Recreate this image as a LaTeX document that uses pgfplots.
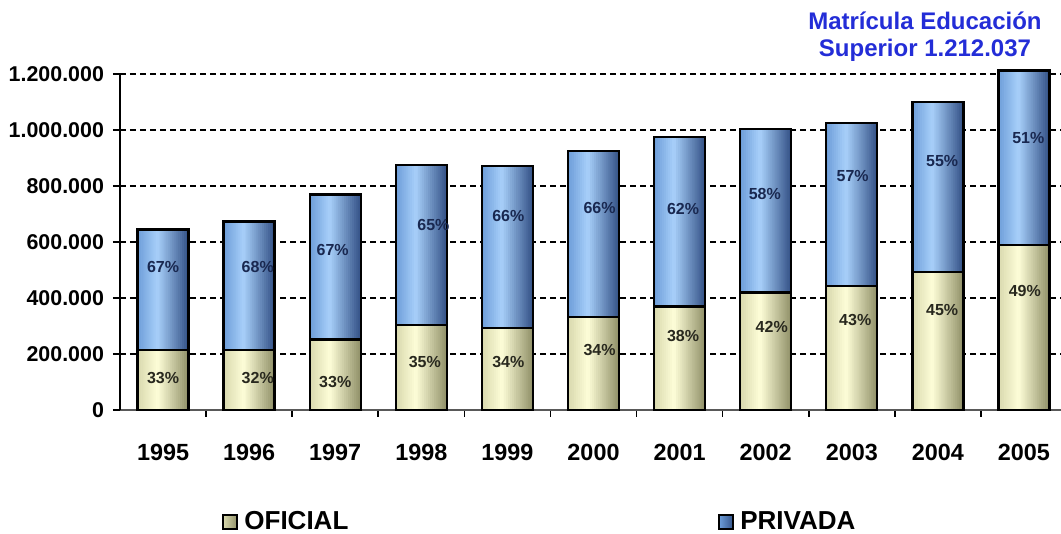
\documentclass[border=0pt]{standalone}
\usepackage{pgfplots}
\usepackage{pgfplotstable}
\pgfplotsset{compat=1.18}
\usepackage{fontspec}
\setmainfont{Liberation Sans}

\definecolor{blueL}{RGB}{108,156,216}
\definecolor{blueM}{RGB}{168,208,250}
\definecolor{blueR}{RGB}{52,82,135}
\definecolor{creamL}{RGB}{215,215,172}
\definecolor{creamM}{RGB}{254,254,216}
\definecolor{creamR}{RGB}{145,145,105}
\definecolor{titleblue}{RGB}{35,45,215}
\definecolor{navytxt}{RGB}{25,40,80}
\definecolor{darktxt}{RGB}{40,40,30}

\pgfplotstableread{
x ofi pri
0 215000 430000
1 215000 458000
2 252000 517000
3 303000 573000
4 292000 580000
5 332000 594000
6 369000 607000
7 420000 584000
8 443000 583000
9 493000 607000
10 590000 622037
}\datatable

\pgfplotsset{
  common/.style={
    at={(60pt,62pt)}, anchor=south west, scale only axis,
    width=470.5pt, height=168pt,
    xmin=-0.5, xmax=10.43, ymin=0, ymax=1200000,
    clip=false,
  },
  ofistyle/.style={draw=black, line width=1.2pt, left color=creamL, middle color=creamM, right color=creamR},
  pristyle/.style={draw=black, line width=1.2pt, left color=blueL, middle color=blueM, right color=blueR},
}

\begin{document}
\begin{tikzpicture}
\useasboundingbox (0,0) rectangle (530.5pt,267pt);
% frame, grid, ticks, legend
\begin{axis}[
  common,
  axis x line*=bottom, axis y line*=left,
  axis line style={-},
  x axis line style={draw=black!65, line width=0.9pt},
  y axis line style={draw=black, line width=1pt},
  ytick={0,200000,400000,600000,800000,1000000,1200000},
  yticklabels={0,200.000,400.000,600.000,800.000,1.000.000,1.200.000},
  scaled y ticks=false,
  yticklabel style={font=\bfseries\fontsize{10.7}{12}\selectfont, xshift=-1pt},
  ymajorgrids,
  major grid style={black, line width=0.7pt, dash pattern=on 3pt off 2pt},
  tick align=outside,
  major tick length=3.5pt,
  tick style={black, line width=0.8pt},
  xtick={0.5,1.5,2.5,3.5,4.5,5.5,6.5,7.5,8.5,9.5},
  xticklabels={,,,,,,,,,},
  extra x ticks={0,1,2,3,4,5,6,7,8,9,10},
  extra x tick labels={1995,1996,1997,1998,1999,2000,2001,2002,2003,2004,2005},
  extra x tick style={major tick length=0pt, tick style={draw=none}},
  x tick label style={font=\bfseries\fontsize{11.7}{13}\selectfont, yshift=-13.5pt},
  legend style={at={(0.102,-0.333)}, anchor=west, draw=none, fill=none,
    legend columns=2, font=\bfseries\fontsize{13}{15}\selectfont,
    /tikz/every even column/.append style={column sep=183pt},
    /tikz/every odd column/.append style={column sep=1pt}},
  legend cell align=left,
  legend image code/.code={\draw[#1, line width=1pt] (0pt,-3.5pt) rectangle (7pt,3.5pt);},
]
\addlegendimage{ofistyle}
\addlegendentry{OFICIAL}
\addlegendimage{pristyle}
\addlegendentry{PRIVADA}
\end{axis}

% bar fills: 25 thin vertical slices of each stacked bar give the horizontal gradient
\foreach \k in {0,...,24}{
  \pgfmathsetmacro\t{(\k+0.5)/25}
  \pgfmathsetmacro\sh{(\k+0.5)*1.02-12.75}
  \ifdim\t pt<0.4pt
    \pgfmathtruncatemacro\p{100*\t/0.4}
    \colorlet{bc}{blueM!\p!blueL}\colorlet{cc}{creamM!\p!creamL}
  \else
    \pgfmathtruncatemacro\p{100*(\t-0.4)/0.6}
    \colorlet{bc}{blueR!\p!blueM}\colorlet{cc}{creamR!\p!creamM}
  \fi
  \begin{axis}[common, hide axis, ybar stacked, bar width=1.4pt, bar shift=\sh pt]
  \addplot[fill=cc, draw=none] table[x=x, y=ofi] {\datatable};
  \addplot[fill=bc, draw=none] table[x=x, y=pri] {\datatable};
  \end{axis}
}

% bar outlines
\begin{axis}[common, hide axis, ybar stacked, bar width=25.5pt]
\addplot[fill=none, draw=black, line width=1.2pt] table[x=x, y=ofi] {\datatable};
\addplot[fill=none, draw=black, line width=1.2pt] table[x=x, y=pri] {\datatable};
\end{axis}

% percentage labels and title
\begin{axis}[common, hide axis]
\addplot[only marks, mark=none,
  nodes near coords, point meta=explicit symbolic,
  every node near coord/.append style={anchor=center, text=navytxt, font=\bfseries\fontsize{8}{9}\selectfont}]
  coordinates {
  (0,509000) [67\%]
  (1.10,509000) [68\%]
  (1.97,570000) [67\%]
  (3.14,662000) [65\%]
  (4.01,694000) [66\%]
  (5.07,723000) [66\%]
  (6.04,719000) [62\%]
  (6.99,773000) [58\%]
  (8.01,837000) [57\%]
  (9.05,890000) [55\%]
  (10.05,972000) [51\%]
  };
\addplot[only marks, mark=none,
  nodes near coords, point meta=explicit symbolic,
  every node near coord/.append style={anchor=center, text=darktxt, font=\bfseries\fontsize{8}{9}\selectfont}]
  coordinates {
  (0,114000) [33\%]
  (1.10,114000) [32\%]
  (2.0,100000) [33\%]
  (3.04,171000) [35\%]
  (4.01,171000) [34\%]
  (5.07,214000) [34\%]
  (6.04,263000) [38\%]
  (7.07,296000) [42\%]
  (8.04,320000) [43\%]
  (9.05,356000) [45\%]
  (10.01,424000) [49\%]
  };
\node[anchor=north, align=center, inner sep=0pt, text=titleblue,
  font=\bfseries\fontsize{12}{13.5}\selectfont] at (axis cs:8.85,1424000)
  {Matrícula Educación\\Superior 1.212.037};
\end{axis}
\end{tikzpicture}
\end{document}
